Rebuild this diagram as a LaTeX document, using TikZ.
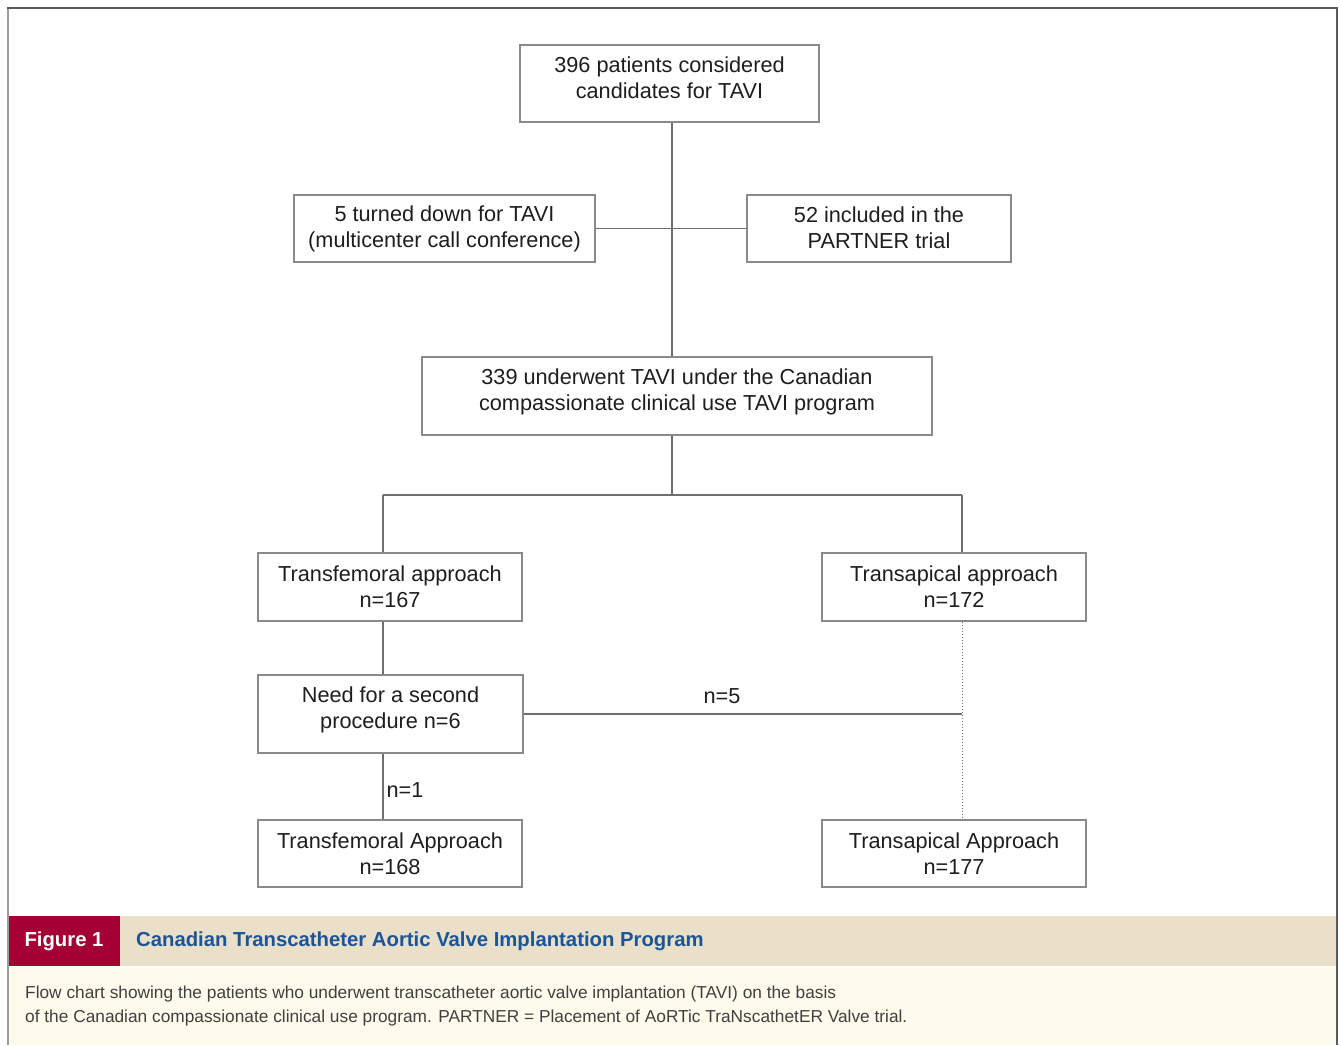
\documentclass[tikz,border=0pt]{standalone}
\usepackage{fontspec}
\setmainfont{Liberation Sans}
\newfontfamily\capfont{Liberation Sans}
\definecolor{boxline}{HTML}{8A8A8A}
\definecolor{conline}{HTML}{6E6E6E}
\definecolor{txt}{HTML}{1E1E1E}
\definecolor{tanband}{HTML}{EADFC8}
\definecolor{figred}{HTML}{A50034}
\definecolor{cream}{HTML}{FEFBEC}
\definecolor{titleblue}{HTML}{1B5597}
\definecolor{frame}{HTML}{5A5A5A}
\begin{document}
\begin{tikzpicture}[x=1pt,y=-1pt,
  flowbox/.style={draw=boxline,line width=1.1pt,fill=white,inner sep=0pt,align=center,
    text=txt,font=\fontsize{21.7}{26}\selectfont},
  tallbox/.style={flowbox,text depth=12.5pt},
  conn/.style={draw=conline,line width=1.1pt},
  dotconn/.style={draw=conline,line width=0.9pt,dash pattern=on 1.5pt off 1.5pt},
  lbl/.style={text=txt,font=\fontsize{21.7}{26}\selectfont,inner sep=0pt}]
\useasboundingbox (0,0) rectangle (1341,1045);
% frame
\draw[frame!60,line width=2pt] (8,8) -- (8,1045);
\draw[frame,line width=2pt] (7,8) -- (1337,8) -- (1337,1045);
% boxes
\node[tallbox,minimum width=299pt,minimum height=77pt] (b1) at (669.5,83.5) {396 patients considered\\candidates for TAVI};
\node[flowbox,minimum width=301pt,minimum height=67pt] (b2) at (444.5,228.5) {5 turned down for TAVI\\(multicenter call conference)};
\node[flowbox,text depth=2pt,minimum width=264pt,minimum height=67pt] (b3) at (879,228.5) {52 included in the\\PARTNER trial};
\node[tallbox,minimum width=510pt,minimum height=78pt] (b4) at (677,396) {339 underwent TAVI under the Canadian\\compassionate clinical use TAVI program};
\node[flowbox,minimum width=264pt,minimum height=68pt] (b5) at (390,587) {Transfemoral approach\\n=167};
\node[flowbox,minimum width=264pt,minimum height=68pt] (b6) at (954,587) {Transapical approach\\n=172};
\node[tallbox,minimum width=265pt,minimum height=78pt] (b7) at (390.5,714) {Need for a second\\procedure n=6};
\node[flowbox,minimum width=264pt,minimum height=67pt] (b8) at (390,853.5) {Transfemoral Approach\\n=168};
\node[flowbox,minimum width=264pt,minimum height=67pt] (b9) at (954,853.5) {Transapical Approach\\n=177};
% junctions
\coordinate (j0) at (672,495);
\coordinate (jl) at (383,495);
\coordinate (jr) at (962,495);
% connectors
\draw[conn] (b1.south -| j0) -- (b4.north -| j0);
\draw[conn] (b2.east) -- (b3.west);
\draw[conn] (b4.south -| j0) -- (j0);
\draw[conn] (jl) -- (jr);
\draw[conn] (jl) -- (b5.north -| jl);
\draw[conn] (jr) -- (b6.north -| jr);
\draw[conn] (b5.south -| jl) -- (b7.north -| jl);
\draw[conn] (b7.south -| jl) -- (b8.north -| jl);
\node[lbl] (l1) at (405,790) {n=1};
\draw[conn] (b7.east) -- (b7.east -| jr);
\draw[dotconn] (b6.south -| jr) -- (b9.north -| jr);
\node[lbl] (l5) at (722,696) {n=5};
% caption
\fill[tanband] (9,916) rectangle (1336,966);
\fill[figred] (9,916) rectangle (120,966);
\fill[cream] (9,967) rectangle (1336,1045);
\node[text=white,font=\capfont\bfseries\fontsize{20.3}{23}\selectfont,inner sep=0pt] (fig) at (64,941) {Figure 1};
\node[text=titleblue,font=\capfont\bfseries\fontsize{20.3}{23}\selectfont,inner sep=0pt,anchor=west] (title) at (136,941) {Canadian Transcatheter Aortic Valve Implantation Program};
\node[text=txt!85,font=\capfont\fontsize{17.3}{23.5}\selectfont,inner sep=0pt,anchor=north west,align=left] (cap) at (25,986) {Flow chart showing the patients who underwent transcatheter aortic valve implantation (TAVI) on the basis\\of the Canadian compassionate clinical use program. PARTNER = Placement of AoRTic TraNscathetER Valve trial.};
\end{tikzpicture}
\end{document}
